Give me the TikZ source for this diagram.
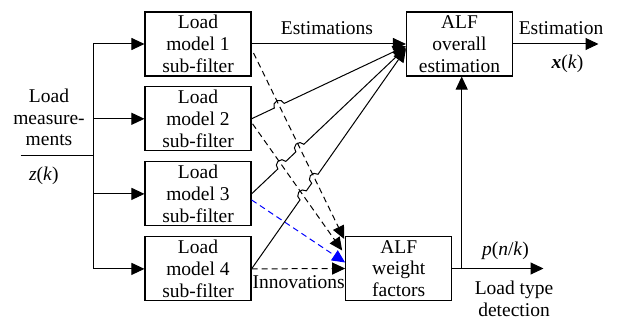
\documentclass[tikz,border=0pt]{standalone}
\usepackage{fontspec}
\setmainfont{Liberation Serif}
\usetikzlibrary{arrows.meta,calc,intersections}
\begin{document}
\begin{tikzpicture}[x=1pt,y=-1pt,
  font=\fontsize{19.5}{21.8}\selectfont,
  blk/.style={draw,line width=1.1pt,minimum width=106pt,minimum height=64pt,inner sep=0pt,align=center},
  lbl/.style={inner sep=0pt,align=center},
  wire/.style={line width=1pt},
  conn/.style={line width=1pt,-{Triangle[length=13pt,width=12pt]}},
  dsh/.style={line width=1pt,dash pattern=on 6pt off 4pt,-{Triangle[length=13pt,width=12pt]}},
  ]
\useasboundingbox (0,0) rectangle (617,320);
% blocks
\node[blk] (b1) at (198,44) {Load\\model 1\\sub-filter};
\node[blk] (b2) at (198,118.8) {Load\\model 2\\sub-filter};
\node[blk] (b3) at (198,193.9) {Load\\model 3\\sub-filter};
\node[blk] (b4) at (198,268.9) {Load\\model 4\\sub-filter};
\node[blk] (ovr) at (459.5,44) {ALF\\overall\\estimation};
\node[blk] (wgt) at (398.7,268.5) {ALF\\weight\\factors};
% labels
\node[lbl] (lm) at (49,117.5) {Load\\measure-\\ments};
\node[lbl] (zk) at (43.8,175.5) {\textit{z}(\textit{k})};
\node[lbl] (est) at (327,28.5) {Estimations};
\node[lbl] (est2) at (561,28.5) {Estimation};
\node[lbl] (xk) at (567.5,63.5) {\textbf{\textit{x}}(\textit{k})};
\node[lbl] (pnk) at (505.5,250.8) {\textit{p}(\textit{n}/\textit{k})};
\node[lbl] (ltd) at (514,299) {Load type\\detection};
\node[lbl] (inn) at (298.7,282.5) {Innovations};
% input and bus
\coordinate (in) at (20.7,156);
\coordinate (bus) at (93.3,156);
\draw[wire] (in) -- (bus);
\draw[wire] (b1.west -| bus) -- (b4.west -| bus);
\draw[conn] (b1.west -| bus) -- (b1.west);
\draw[conn] (b2.west -| bus) -- (b2.west);
\draw[conn] (b3.west -| bus) -- (b3.west);
\draw[conn] (b4.west -| bus) -- (b4.west);
% outputs
\coordinate (xout) at (598.5,44);
\draw[conn] (ovr.east) -- (xout);
\coordinate (jn) at (461.7,268.5);
\coordinate (pout) at (543.5,268.5);
\draw[conn] (wgt.east) -- (pout);
\draw[conn] (jn) -- (jn |- ovr.south);
% estimations
\draw[conn] (b1.east) -- (ovr.west);
\coordinate (s2e) at ($(ovr.west)+(0,2)$);
\coordinate (s3e) at ($(ovr.west)+(0,3.5)$);
\coordinate (s4e) at ($(ovr.west)+(0,5)$);
% innovations
\coordinate (d1s) at ($(b1.east)+(2,9)$);
\coordinate (d1e) at ($(wgt.north west)+(-1,3)$);
\coordinate (d2s) at ($(b2.east)+(1,5)$);
\coordinate (d2e) at ($(wgt.west)+(-3,-18)$);
\coordinate (bls) at ($(b3.east)+(0,6)$);
\coordinate (ble) at ($(wgt.west)+(0,-6)$);
\draw[dsh] (d1s) -- (d1e);
\draw[dsh] (d2s) -- (d2e);
\draw[dsh,blue] (bls) -- (ble);
\draw[dsh] (b4.east) -- (wgt.west);
% crossings
\path[name path=pd1] (d1s) -- (d1e);
\path[name path=pd2] (d2s) -- (d2e);
\path[name path=ps2] (b2.east) -- (s2e);
\path[name path=ps3] (b3.east) -- (s3e);
\path[name path=ps4] (b4.east) -- (s4e);
\path[name intersections={of=ps2 and pd1,by=x21}];
\path[name intersections={of=ps3 and pd1,by=x31}];
\path[name intersections={of=ps3 and pd2,by=x32}];
\path[name intersections={of=ps4 and pd1,by=x41}];
\path[name intersections={of=ps4 and pd2,by=x42}];
\draw[conn] let \p1=($(s2e)-(b2.east)$), \n1={atan2(\y1,\x1)} in
  (b2.east) -- ($(x21)!5.5pt!(b2.east)$) arc[start angle=\n1+180,end angle=\n1,radius=5.5pt] -- (s2e);
\draw[conn] let \p1=($(s3e)-(b3.east)$), \n1={atan2(\y1,\x1)} in
  (b3.east) -- ($(x32)!5.5pt!(b3.east)$) arc[start angle=\n1+180,end angle=\n1,radius=5.5pt]
  -- ($(x31)!5.5pt!(b3.east)$) arc[start angle=\n1+180,end angle=\n1,radius=5.5pt] -- (s3e);
\draw[conn] let \p1=($(s4e)-(b4.east)$), \n1={atan2(\y1,\x1)} in
  (b4.east) -- ($(x42)!5.5pt!(b4.east)$) arc[start angle=\n1+180,end angle=\n1,radius=5.5pt]
  -- ($(x41)!5.5pt!(b4.east)$) arc[start angle=\n1+180,end angle=\n1,radius=5.5pt] -- (s4e);
\end{tikzpicture}
\end{document}
